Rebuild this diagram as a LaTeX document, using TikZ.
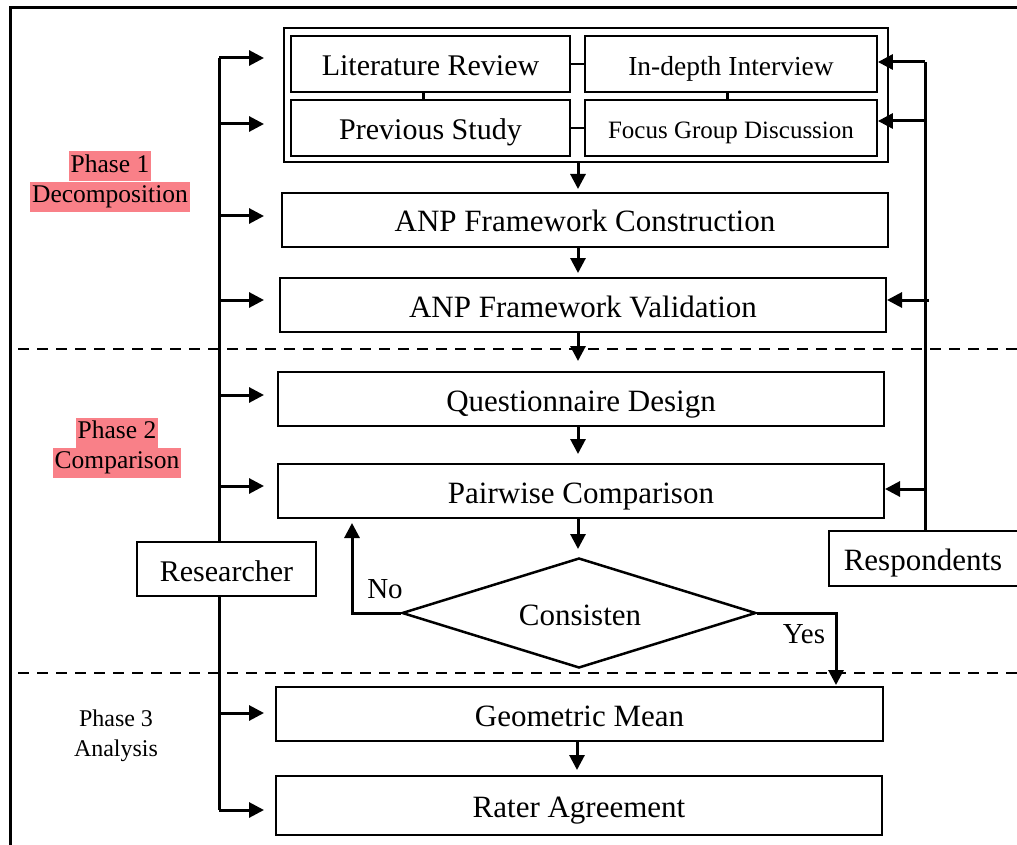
\documentclass[tikz,border=0pt]{standalone}
\usepackage{fontspec}
\setmainfont{Liberation Serif}
\usetikzlibrary{arrows.meta,shapes.geometric}
\definecolor{hl}{HTML}{F98088}
\begin{document}
\begin{tikzpicture}[x=1pt,y=-1pt,
  box/.style={draw,line width=2pt,fill=white,inner sep=0pt,text height=26pt,text depth=2pt,font=\fontsize{31}{34}\selectfont},
  arr/.style={line width=3pt,-{Triangle[length=15pt,width=15pt]}},
  conn/.style={line width=3pt},
  thinline/.style={line width=1.5pt},
  dashline/.style={line width=2.5pt,dash pattern=on 11pt off 8pt},
  phase/.style={font=\fontsize{25.5}{28}\selectfont,inner xsep=2pt,inner ysep=0pt,text height=21pt,text depth=9pt},
  lbl/.style={font=\fontsize{29}{32}\selectfont,inner sep=0pt}]
\useasboundingbox (0,0) rectangle (1017,845);
\begin{scope}
\clip (0,0) rectangle (1017,845);
% frame
\draw[line width=3pt] (10,850) -- (10,8) -- (1020,8);
% dashed separators
\draw[dashline] (18,349) -- (1017,349);
\draw[dashline] (18,673) -- (1017,673);

% group box
\node[draw,line width=2pt,minimum width=604pt,minimum height=134pt,inner sep=0pt] (grp) at (586,95) {};
\node[box,line width=1.8pt,minimum width=279pt,minimum height=56pt,font=\fontsize{30}{34}\selectfont] (lit) at (430.5,64) {Literature Review};
\node[box,line width=1.8pt,minimum width=292pt,minimum height=56pt,font=\fontsize{27.5}{32}\selectfont] (idi) at (731,64) {In-depth Interview};
\node[box,line width=1.8pt,minimum width=279pt,minimum height=56pt,font=\fontsize{30}{34}\selectfont] (prev) at (430.5,128) {Previous Study};
\node[box,line width=1.8pt,minimum width=292pt,minimum height=56pt,font=\fontsize{25}{28}\selectfont,text height=23pt,text depth=1pt] (fgd) at (731,128) {Focus Group Discussion};
\draw[thinline] (lit.east) -- (idi.west);
\draw[thinline] (prev.east) -- (fgd.west);
\draw[conn] (lit.south -| 423,0) -- (prev.north -| 423,0);
\draw[conn] (idi.south -| 727,0) -- (fgd.north -| 727,0);

% main boxes
\node[box,minimum width=606pt,minimum height=54pt] (anpc) at (585,220) {ANP Framework Construction};
\node[box,minimum width=606pt,minimum height=54pt] (anpv) at (583,305) {ANP Framework Validation};
\node[box,minimum width=606pt,minimum height=54pt] (qd) at (581,399) {Questionnaire Design};
\node[box,minimum width=606pt,minimum height=54pt] (pc) at (581,491) {Pairwise Comparison};
\node[draw,line width=2.5pt,diamond,aspect=3.2,minimum width=354pt,minimum height=110pt,inner sep=0pt] (dia) at (579,613) {};
\node[font=\fontsize{31}{34}\selectfont,inner sep=0pt,text height=26pt,text depth=2pt] (dtext) at (580,613) {Consisten};
\node[box,minimum width=607pt,minimum height=54pt] (gm) at (579.5,714) {Geometric Mean};
\node[box,minimum width=606pt,minimum height=59pt] (ra) at (579,805.5) {Rater Agreement};

% vertical flow arrows
\draw[arr] (grp.south -| 578,0) -- (578,189);
\draw[arr] (anpc.south -| 578,0) -- (578,273);
\draw[arr] (anpv.south -| 578,0) -- (578,361);
\draw[arr] (qd.south -| 578,0) -- (578,454);
\draw[arr] (pc.south -| 578,0) -- (578,549);
\draw[arr] (gm.south -| 577,0) -- (577,770);

% No / Yes
\coordinate (noend) at (352,523);
\coordinate (yesend) at (836,685);
\draw[arr] (dia.west) -- (352,613) -- (noend);
\draw[arr] (dia.east) -- (836,613) -- (yesend);
\node[lbl] (no) at (385,589) {No};
\node[lbl] (yes) at (804,634) {Yes};

% Researcher
\coordinate (rtop) at (219,58);
\coordinate (rbot) at (219,810);
\draw[conn] (rtop) -- (rbot);
\foreach \y/\n in {58/1,124/2,216/3,300/4,395/5,486/6,713/7,810/8}{
  \coordinate (ra\n) at (219,\y);
  \coordinate (re\n) at (264,\y);
  \draw[arr] (ra\n) -- (re\n);
}
\node[box,minimum width=179pt,minimum height=54pt,font=\fontsize{30}{34}\selectfont] (res) at (226.5,569) {Researcher};

% Respondents
\node[box,minimum width=192pt,minimum height=55pt] (resp) at (925,558.5) {\hspace*{-4pt}Respondents};
\draw[conn] (resp.north -| 925,0) -- (925,62);
\draw[arr] (925,62) -- (idi.east |- 0,62);
\draw[arr] (925,121) -- (fgd.east |- 0,121);
\draw[arr] (929,300) -- (anpv.east |- 0,300);
\draw[arr] (925,489) -- (pc.east |- 0,489);

% phase labels
\node[phase,fill=hl] (p1a) at (110,166.5) {Phase 1};
\node[phase,fill=hl,anchor=north] (p1b) at (p1a.south) {Decomposition};
\node[phase,fill=hl] (p2a) at (117,432.5) {Phase 2};
\node[phase,fill=hl,anchor=north] (p2b) at (p2a.south) {Comparison};
\node[phase,font=\fontsize{24}{27}\selectfont] (p3a) at (116,720) {Phase 3};
\node[phase,font=\fontsize{24}{27}\selectfont,anchor=north] (p3b) at (p3a.south) {Analysis};
\end{scope}
\end{tikzpicture}
\end{document}
